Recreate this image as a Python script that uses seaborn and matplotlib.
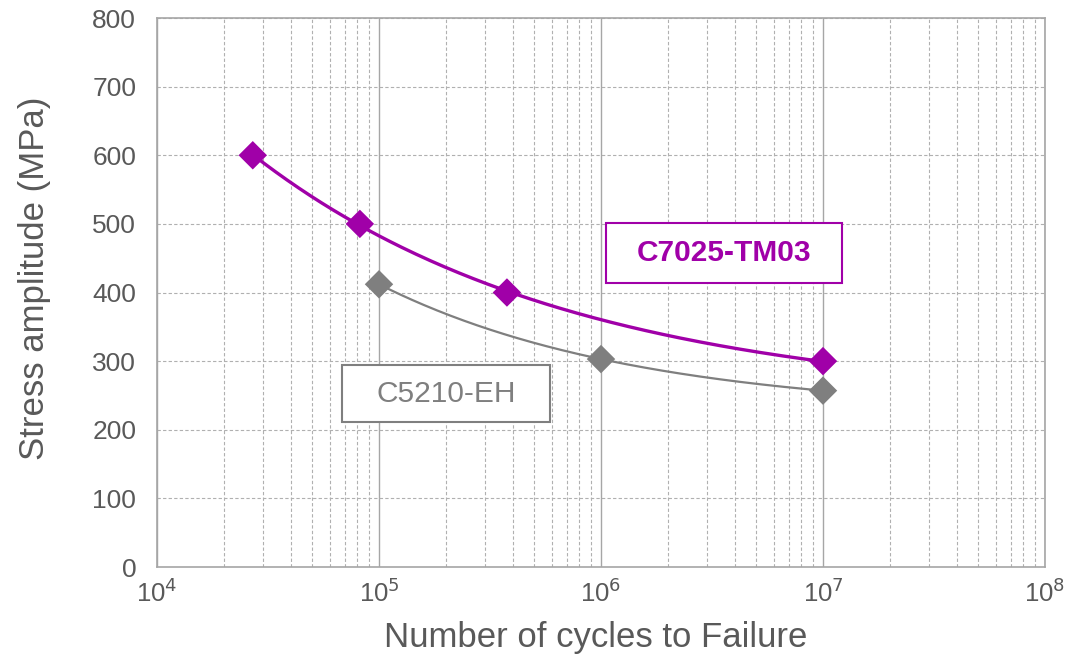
import numpy as np
import pandas as pd
import matplotlib
matplotlib.use("Agg")
import matplotlib.pyplot as plt
import seaborn as sns
from matplotlib.patches import Rectangle
from matplotlib.ticker import LogLocator, FixedLocator, NullFormatter

# Data
c7025_cycles = [2.7e4, 8.2e4, 3.77e5, 1.0e7]
c7025_stress = [600, 500, 400, 300]
c5210_cycles = [1.0e5, 1.0e6, 1.0e7]
c5210_stress = [412, 303, 257]
y_ticks = [0, 100, 200, 300, 400, 500, 600, 700, 800]
x_ticks = [1e4, 1e5, 1e6, 1e7, 1e8]
x_tick_labels = ["10$^{4}$", "10$^{5}$", "10$^{6}$", "10$^{7}$", "10$^{8}$"]

PURPLE = "#a000a8"
GRAY = "#7f7f7f"
TXT = "#595959"

sns.set_theme(style="white")
plt.rcParams["font.family"] = ["Liberation Sans", "DejaVu Sans"]

fig = plt.figure(figsize=(10.71, 6.6), dpi=100)
ax = fig.add_axes([0.1466, 0.1409, 0.8291, 0.8318])


def trend(xs, ys, n=200):
    # least-squares fit of S = c + a * N**b (S-N curve with endurance offset)
    L = np.log10(np.asarray(xs, float))
    y = np.asarray(ys, float)
    best = None
    for b in np.linspace(-1.0, -0.02, 981):
        A = np.column_stack([np.ones_like(L), 10 ** (b * L)])
        coef, *_ = np.linalg.lstsq(A, y, rcond=None)
        err = np.sum((A @ coef - y) ** 2)
        if best is None or err < best[0]:
            best = (err, b, coef)
    _, b, (c, a) = best
    ll = np.linspace(L.min(), L.max(), n)
    return pd.DataFrame({"x": 10 ** ll, "y": c + a * 10 ** (b * ll)})


t1 = trend(c7025_cycles, c7025_stress)
t2 = trend(c5210_cycles, c5210_stress)

sns.lineplot(data=t2, x="x", y="y", ax=ax, color=GRAY, lw=1.6, zorder=3)
sns.lineplot(data=t1, x="x", y="y", ax=ax, color=PURPLE, lw=2.4, zorder=3)

d1 = pd.DataFrame({"x": c7025_cycles, "y": c7025_stress})
d2 = pd.DataFrame({"x": c5210_cycles, "y": c5210_stress})
sns.scatterplot(data=d2, x="x", y="y", ax=ax, marker="D", s=210, color=GRAY,
                edgecolor="none", zorder=4)
sns.scatterplot(data=d1, x="x", y="y", ax=ax, marker="D", s=210, color=PURPLE,
                edgecolor="none", zorder=4)

ax.set_xscale("log")
ax.set_xlim(1e4, 1e8)
ax.set_ylim(0, 800)
ax.set_yticks(y_ticks)
ax.xaxis.set_major_locator(FixedLocator(x_ticks))
ax.set_xticklabels(x_tick_labels)
ax.xaxis.set_minor_locator(LogLocator(base=10, subs=np.arange(2, 10)))
ax.xaxis.set_minor_formatter(NullFormatter())

ax.grid(which="major", axis="x", color="#a6a6a6", lw=1.0, ls="-")
ax.grid(which="minor", axis="x", color="#b0b0b0", lw=0.8, ls=(0, (3, 2)))
ax.grid(which="major", axis="y", color="#b0b0b0", lw=0.8, ls=(0, (3, 2)))
ax.set_axisbelow(True)

for s in ax.spines.values():
    s.set_color("#a6a6a6")
    s.set_linewidth(1.2)

ax.tick_params(axis="y", which="major", direction="in", length=7, color="#a6a6a6",
               labelsize=19, labelcolor=TXT, pad=15)
ax.tick_params(axis="x", which="both", length=0, labelsize=18.5, labelcolor=TXT, pad=8)

ax.set_xlabel("Number of cycles to Failure", fontsize=25, color=TXT, labelpad=10)
ax.set_ylabel("Stress amplitude (MPa)", fontsize=25, color=TXT, labelpad=30)
ax.xaxis.label.set_x(0.494)
ax.yaxis.label.set_y(0.526)

# label boxes
ax.add_patch(Rectangle((0.5056, 0.5173), 0.2658, 0.1093, transform=ax.transAxes,
                       fc="white", ec=PURPLE, lw=1.5, zorder=5))
ax.text(0.6385, 0.572, "C7025-TM03", transform=ax.transAxes, ha="center", va="center",
        fontsize=21.5, fontweight="bold", color=PURPLE, zorder=6)
ax.add_patch(Rectangle((0.2083, 0.2641), 0.2342, 0.1038, transform=ax.transAxes,
                       fc="white", ec=GRAY, lw=1.5, zorder=5))
ax.text(0.3255, 0.316, "C5210-EH", transform=ax.transAxes, ha="center", va="center",
        fontsize=21.5, color=GRAY, zorder=6)

fig.savefig("out.png", dpi=100)
